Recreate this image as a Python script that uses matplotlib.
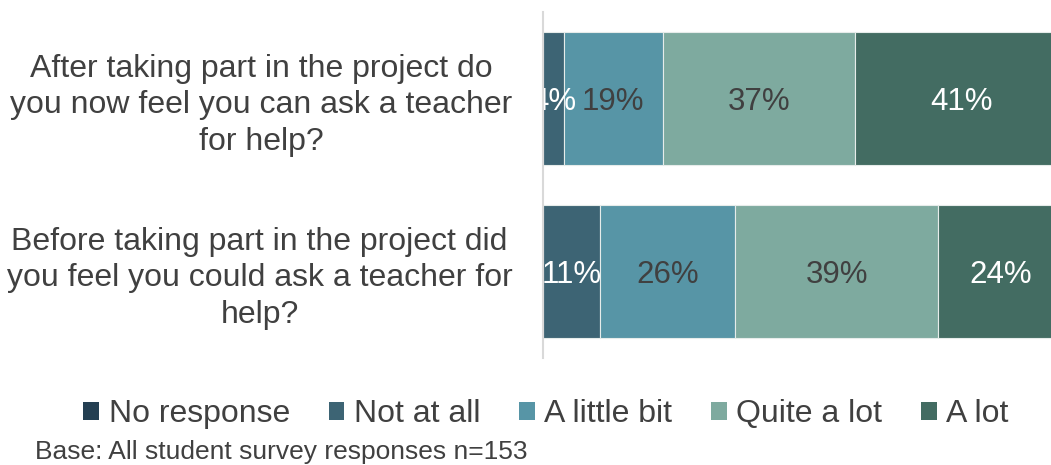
import matplotlib.pyplot as plt
from matplotlib.patches import Patch
import numpy as np

plt.rcParams['font.family'] = ['Liberation Sans', 'DejaVu Sans']

questions = ["Before taking part in the project did\nyou feel you could ask a teacher for\nhelp?",
             "After taking part in the project do\nyou now feel you can ask a teacher\nfor help?"]
responses = ["No response", "Not at all", "A little bit", "Quite a lot", "A lot"]
no_response = [0, 0]
not_at_all = [11, 4]
a_little_bit = [26, 19]
quite_a_lot = [39, 37]
a_lot = [24, 41]

colors = ['#243F52', '#3D6474', '#5795A6', '#7EAA9F', '#436C62']
text_colors = ['white', 'white', '#404040', '#404040', 'white']

series = [no_response, not_at_all, a_little_bit, quite_a_lot, a_lot]

fig = plt.figure(figsize=(10.51, 4.65), dpi=100)
ax = fig.add_axes([543 / 1051, 1 - 358 / 465, 1 - 543 / 1051, 346 / 465])

y = np.arange(len(questions))
left = np.zeros(len(questions))
for vals, col, tcol in zip(series, colors, text_colors):
    vals = np.array(vals, dtype=float)
    ax.barh(y, vals, left=left, height=0.77, color=col, edgecolor='#E6ECEA', linewidth=0.8)
    for yi, v, l in zip(y, vals, left):
        if v > 0:
            ax.text(l + v / 2, yi, f"{int(v)}%", ha='center', va='center_baseline',
                    fontsize=22.5, color=tcol, clip_on=True)
    left += vals

ax.set_xlim(0, 508 / 5.2)
ax.set_ylim(-0.5, 1.5)
ax.set_xticks([])
ax.set_yticks(y)
ax.set_yticklabels(questions, fontsize=23, color='#404040', multialignment='center',
                   linespacing=1.3)
ax.tick_params(axis='y', length=0, pad=22)
for s in ['top', 'right', 'bottom']:
    ax.spines[s].set_visible(False)
ax.spines['left'].set_color('#D9D9D9')
ax.spines['left'].set_linewidth(1.5)
ax.spines['left'].set_zorder(5)

handles = [Patch(facecolor=c, edgecolor='none') for c in colors]
fig.legend(handles, responses, loc='center', bbox_to_anchor=(546 / 1051, 1 - 414 / 465),
           ncol=5, frameon=False, fontsize=23, handlelength=0.5, handleheight=0.5,
           handletextpad=0.3, columnspacing=1.2, labelcolor='#404040')

fig.text(35 / 1051, 1 - 452 / 465, "Base: All student survey responses n=153",
         fontsize=19, color='#404040', va='center', ha='left')

fig.savefig("out.png", dpi=100)
